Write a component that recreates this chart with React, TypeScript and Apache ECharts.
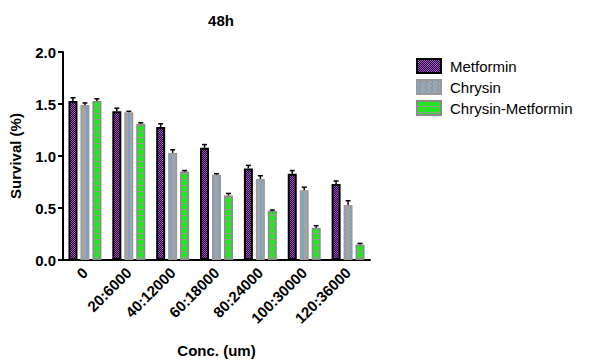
import React, { useEffect, useRef } from "react";
import * as echarts from "echarts";

const categories = ["0", "20:6000", "40:12000", "60:18000", "80:24000", "100:30000", "120:36000"];
const seriesNames = ["Metformin", "Chrysin", "Chrysin-Metformin"];
const metformin = [1.53, 1.43, 1.28, 1.08, 0.88, 0.83, 0.73];
const chrysin = [1.49, 1.42, 1.03, 0.82, 0.78, 0.67, 0.53];
const chrysinMetformin = [1.53, 1.31, 0.85, 0.62, 0.47, 0.31, 0.15];
const metforminErr = [0.03, 0.03, 0.03, 0.03, 0.03, 0.03, 0.03];
const chrysinErr = [0.02, 0.01, 0.03, 0.01, 0.03, 0.03, 0.04];
const chrysinMetforminErr = [0.02, 0.01, 0.01, 0.02, 0.01, 0.02, 0.01];
const yTicks = [0, 0.5, 1.0, 1.5, 2.0];

const FONT = "'Liberation Sans', Arial, sans-serif";
const BAR_W = 9;
const BAR_GAP_PCT = 33;

function makePattern(kind: string): HTMLCanvasElement {
  const c = document.createElement("canvas");
  const ctx = c.getContext("2d")!;
  if (kind === "met") {
    c.width = 4; c.height = 4;
    ctx.fillStyle = "#1a0a20"; ctx.fillRect(0, 0, 4, 4);
    ctx.fillStyle = "#b04ce0";
    ctx.fillRect(0, 0, 1, 1); ctx.fillRect(2, 0, 1, 1);
    ctx.fillRect(1, 1, 1, 1); ctx.fillRect(3, 1, 1, 1);
    ctx.fillRect(0, 2, 1, 1); ctx.fillRect(2, 2, 1, 1);
    ctx.fillRect(1, 3, 1, 1); ctx.fillRect(3, 3, 1, 1);
  } else if (kind === "chr") {
    c.width = 6; c.height = 8;
    ctx.fillStyle = "#a4a4a4"; ctx.fillRect(0, 0, 6, 8);
    ctx.fillStyle = "#4f9ff0";
    const pts = [[2, 0], [3, 1], [3, 2], [2, 3], [2, 4], [3, 5], [3, 6], [2, 7]];
    pts.forEach(([x, y]) => ctx.fillRect(x, y, 1, 1));
  } else {
    c.width = 4; c.height = 6;
    ctx.fillStyle = "#22e622"; ctx.fillRect(0, 0, 4, 6);
    ctx.fillStyle = "#9a9a9a"; ctx.fillRect(0, 5, 4, 1);
  }
  return c;
}

export default function App() {
  const ref = useRef<HTMLDivElement>(null);
  useEffect(() => {
    if (!ref.current) return;
    const chart = echarts.init(ref.current, undefined, { renderer: "svg" });
    const values = [metformin, chrysin, chrysinMetformin];
    const errs = [metforminErr, chrysinErr, chrysinMetforminErr];
    const patterns = [makePattern("met"), makePattern("chr"), makePattern("cm")];
    const borders = ["#000000", "#9a9a9a", "#8a8a8a"];

    const errData: any[] = [];
    values.forEach((arr, si) => {
      arr.forEach((v, ci) => errData.push([ci, si, v, errs[si][ci]]));
    });

    const barSeries = seriesNames.map((name, i) => ({
      name,
      type: "bar",
      data: values[i],
      barWidth: BAR_W,
      barGap: BAR_GAP_PCT + "%",
      itemStyle: {
        color: { image: patterns[i], repeat: "repeat" },
        borderColor: borders[i],
        borderWidth: i === 0 ? 2 : 1.5,
      },
      emphasis: { disabled: true },
    }));

    const option: any = {
      animation: false,
      backgroundColor: "#ffffff",
      title: {
        text: "48h",
        left: 216,
        textAlign: "center",
        top: 8,
        textStyle: { fontFamily: FONT, fontWeight: "bold", fontSize: 15, color: "#000" },
      },
      legend: {
        data: seriesNames.map((n) => ({ name: n, icon: "rect" })),
        orient: "vertical",
        left: 411,
        top: 53,
        itemWidth: 24,
        itemHeight: 14,
        itemGap: 5,
        textStyle: { fontFamily: FONT, fontSize: 15, color: "#000", padding: [0, 0, 0, 4] },
        selectedMode: false,
      },
      grid: { left: 62, right: 219, top: 52, bottom: 103, containLabel: false },
      xAxis: {
        type: "category",
        data: categories,
        name: "Conc. (um)",
        nameLocation: "middle",
        nameGap: 83,
        nameTextStyle: { fontFamily: FONT, fontWeight: "bold", fontSize: 15, color: "#000" },
        axisLine: { lineStyle: { color: "#000", width: 2 } },
        axisTick: { alignWithLabel: true, length: 5, lineStyle: { color: "#000", width: 2 } },
        axisLabel: {
          rotate: 45,
          interval: 0,
          margin: 10,
          fontFamily: FONT,
          fontWeight: "bold",
          fontSize: 15,
          color: "#000",
        },
      },
      yAxis: {
        type: "value",
        min: 0,
        max: 2,
        interval: 0.5,
        name: "Survival (%)",
        nameLocation: "middle",
        nameGap: 40,
        nameTextStyle: { fontFamily: FONT, fontWeight: "bold", fontSize: 15, color: "#000" },
        splitLine: { show: false },
        axisLine: { show: true, lineStyle: { color: "#000", width: 2 } },
        axisTick: { show: true, length: 5, lineStyle: { color: "#000", width: 2 } },
        axisLabel: {
          formatter: (v: number) => (yTicks.includes(v) ? v.toFixed(1) : ""),
          fontFamily: FONT,
          fontWeight: "bold",
          fontSize: 15,
          color: "#000",
          margin: 7,
        },
      },
      series: [
        ...barSeries,
        {
          type: "custom",
          name: "err",
          data: errData,
          encode: { x: 0, y: 2 },
          z: 5,
          renderItem: (params: any, api: any) => {
            const ci = api.value(0);
            const si = api.value(1);
            const v = api.value(2);
            const e = api.value(3);
            const gap = (BAR_W * BAR_GAP_PCT) / 100;
            const total = 3 * BAR_W + 2 * gap;
            const base = api.coord([ci, v]);
            const top = api.coord([ci, v + e]);
            const x = base[0] - total / 2 + si * (BAR_W + gap) + BAR_W / 2;
            const style = { stroke: "#000", lineWidth: 1.5 };
            return {
              type: "group",
              children: [
                { type: "line", shape: { x1: x, y1: base[1], x2: x, y2: top[1] }, style },
                { type: "line", shape: { x1: x - 2.5, y1: top[1], x2: x + 2.5, y2: top[1] }, style },
              ],
            };
          },
        },
      ],
    };
    chart.setOption(option);
    return () => chart.dispose();
  }, []);
  return (
    <div
      ref={ref}
      style={{ position: "fixed", left: 0, top: 0, width: 589, height: 363, background: "#fff" }}
    />
  );
}
